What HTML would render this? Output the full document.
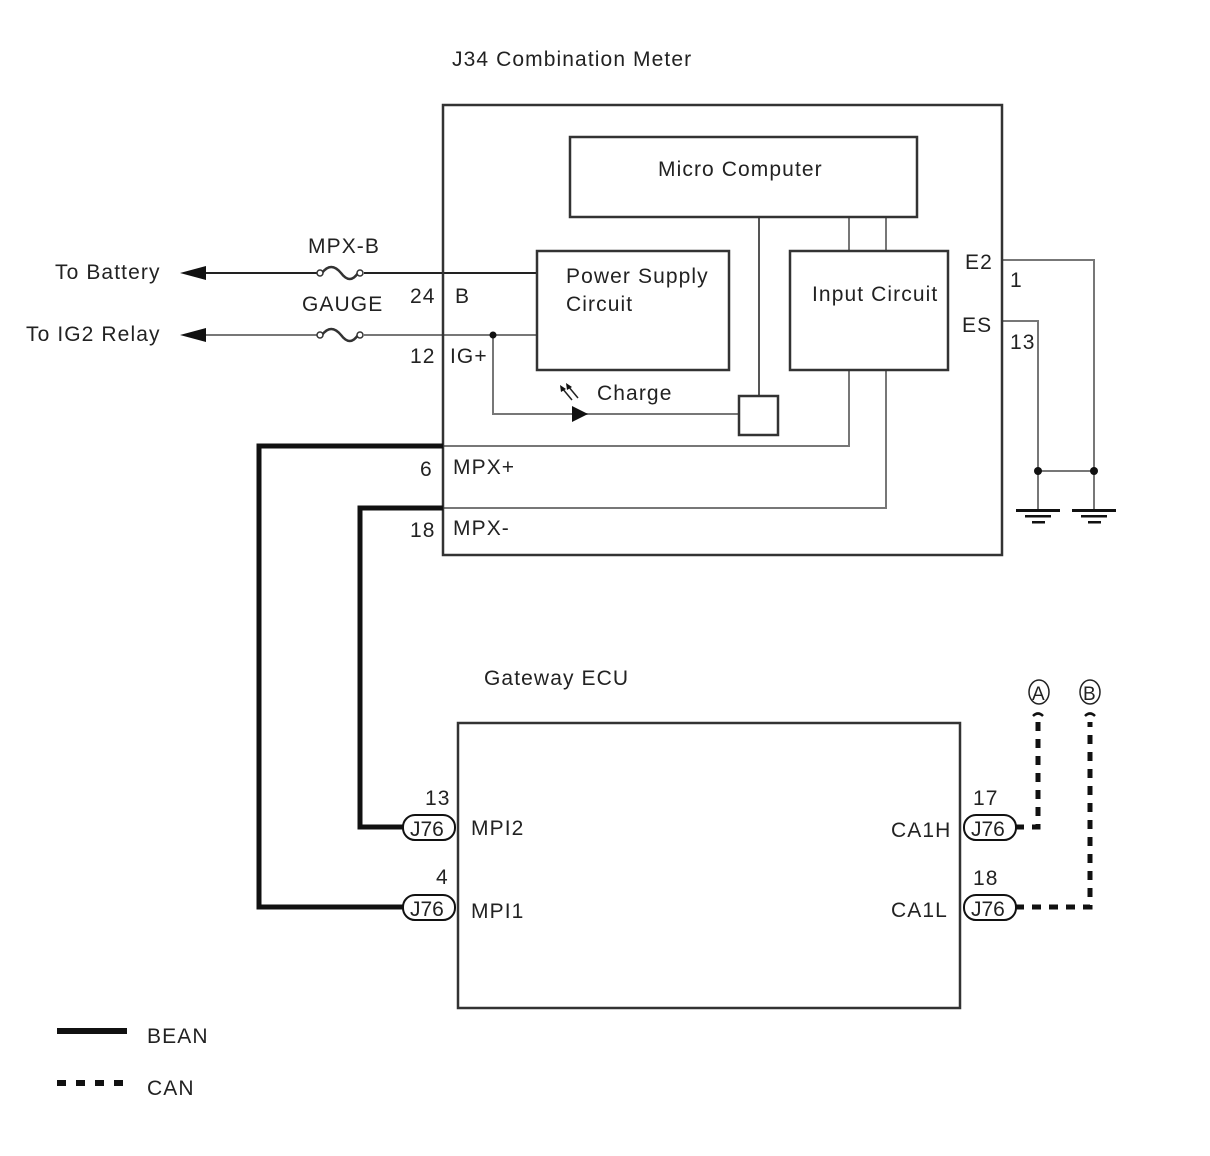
<!DOCTYPE html>
<html><head><meta charset="utf-8"><style>
html,body{margin:0;padding:0;background:#fff;}
svg{display:block;}
text{font-family:"Liberation Sans",Arial,sans-serif;font-size:21px;letter-spacing:1.1px;fill:#222;}
</style></head><body>
<svg width="1210" height="1156" viewBox="0 0 1210 1156" xmlns="http://www.w3.org/2000/svg">
<rect width="1210" height="1156" fill="#fff"/>
<text x="452" y="66">J34 Combination Meter</text>
<g stroke="#777" stroke-width="2" fill="none">
<line x1="200" y1="273" x2="537" y2="273" stroke="#222"/>
<line x1="200" y1="335" x2="537" y2="335"/>
<polyline points="493,335 493,414 739,414"/>
<line x1="759" y1="217" x2="759" y2="396" stroke="#555"/>
<line x1="849" y1="217" x2="849" y2="251"/>
<line x1="886" y1="217" x2="886" y2="251"/>
<polyline points="849,370 849,446 443,446"/>
<polyline points="886,370 886,508 443,508"/>
<polyline points="1002,260 1094,260 1094,512"/>
<polyline points="1002,321 1038,321 1038,512"/>
<line x1="1038" y1="471" x2="1094" y2="471"/>
</g>
<g fill="#fff" stroke="#333" stroke-width="1.5">
<rect x="318" y="266" width="46" height="14" fill="#fff" stroke="none"/>
<rect x="318" y="328" width="46" height="14" fill="#fff" stroke="none"/>
<path d="M322,273 q9,-12 19,0 q9,12 17,0" fill="none" stroke-width="2.5"/>
<circle cx="320" cy="273" r="3"/><circle cx="360" cy="273" r="3"/>
<path d="M322,335 q9,-12 19,0 q9,12 17,0" fill="none" stroke-width="2.5"/>
<circle cx="320" cy="335" r="3"/><circle cx="360" cy="335" r="3"/>
</g>
<polygon points="180,273 206,266 206,280" fill="#111"/>
<polygon points="180,335 206,328 206,342" fill="#111"/>
<circle cx="493" cy="335" r="3.5" fill="#111"/>
<g fill="none" stroke="#333" stroke-width="2.5">
<rect x="443" y="105" width="559" height="450"/>
<rect x="570" y="137" width="347" height="80"/>
<rect x="537" y="251" width="192" height="119"/>
<rect x="790" y="251" width="158" height="119"/>
<rect x="739" y="396" width="39" height="39"/>
<rect x="458" y="723" width="502" height="285"/>
</g>
<polygon points="572,406 588,414 572,422" fill="#111"/>
<g stroke="#222" stroke-width="1.5">
<line x1="572" y1="400" x2="562" y2="388"/><line x1="578" y1="398" x2="568" y2="386"/>
</g>
<polygon points="560,385 566,389 561,392" fill="#111"/>
<polygon points="566,383 572,387 567,390" fill="#111"/>
<text x="597" y="400">Charge</text>
<text x="658" y="176">Micro Computer</text>
<text x="566" y="283">Power Supply</text>
<text x="566" y="311">Circuit</text>
<text x="812" y="301">Input Circuit</text>
<text x="308" y="253">MPX-B</text>
<text x="302" y="311">GAUGE</text>
<text x="55" y="279">To Battery</text>
<text x="26" y="341">To IG2 Relay</text>
<text x="410" y="303">24</text><text x="455" y="303">B</text>
<text x="410" y="363">12</text><text x="450" y="363">IG+</text>
<text x="420" y="476">6</text><text x="453" y="474">MPX+</text>
<text x="410" y="537">18</text><text x="453" y="535">MPX-</text>
<text x="965" y="269">E2</text><text x="1010" y="287">1</text>
<text x="962" y="332">ES</text><text x="1010" y="349">13</text>
<g fill="#111">
<circle cx="1038" cy="471" r="4"/><circle cx="1094" cy="471" r="4"/>
<rect x="1016" y="509" width="44" height="3"/><rect x="1025" y="515" width="26" height="2.5"/><rect x="1032" y="521" width="13" height="2.5"/>
<rect x="1072" y="509" width="44" height="3"/><rect x="1081" y="515" width="26" height="2.5"/><rect x="1088" y="521" width="13" height="2.5"/>
</g>
<g stroke="#111" stroke-width="5" fill="none">
<polyline points="443,446 259,446 259,907 403,907"/>
<polyline points="443,508 360,508 360,827 403,827"/>
</g>
<g stroke="#111" stroke-width="5" fill="none" stroke-dasharray="9,8">
<polyline points="1015,827 1038,827 1038,722"/>
<polyline points="1015,907 1090,907 1090,722"/>
</g>
<path d="M1033,716 q5,-5 10,0" stroke="#111" stroke-width="2.5" fill="none"/>
<path d="M1085,716 q5,-5 10,0" stroke="#111" stroke-width="2.5" fill="none"/>
<g fill="none" stroke="#222" stroke-width="1.5">
<ellipse cx="1039" cy="692" rx="10" ry="12"/><ellipse cx="1090" cy="692" rx="10" ry="12"/>
</g>
<text x="1032" y="700" style="font-size:19px;letter-spacing:0">A</text>
<text x="1083" y="700" style="font-size:19px;letter-spacing:0">B</text>
<g fill="#fff" stroke="#111" stroke-width="2">
<rect x="403" y="815" width="52" height="25" rx="12"/>
<rect x="403" y="895" width="52" height="25" rx="12"/>
<rect x="964" y="815" width="52" height="25" rx="12"/>
<rect x="964" y="895" width="52" height="25" rx="12"/>
</g>
<text x="410" y="836" style="letter-spacing:0">J76</text><text x="410" y="916" style="letter-spacing:0">J76</text>
<text x="971" y="836" style="letter-spacing:0">J76</text><text x="971" y="916" style="letter-spacing:0">J76</text>
<text x="425" y="805">13</text><text x="436" y="884">4</text>
<text x="973" y="805">17</text><text x="973" y="885">18</text>
<text x="471" y="835">MPI2</text><text x="471" y="918">MPI1</text>
<text x="891" y="837">CA1H</text><text x="891" y="917">CA1L</text>
<text x="484" y="685">Gateway ECU</text>
<rect x="57" y="1028" width="70" height="6" fill="#111"/>
<g fill="#111"><rect x="57" y="1080" width="9" height="6"/><rect x="76" y="1080" width="9" height="6"/><rect x="95" y="1080" width="9" height="6"/><rect x="114" y="1080" width="9" height="6"/></g>
<text x="147" y="1043">BEAN</text>
<text x="147" y="1095">CAN</text>
</svg>
</body></html>
